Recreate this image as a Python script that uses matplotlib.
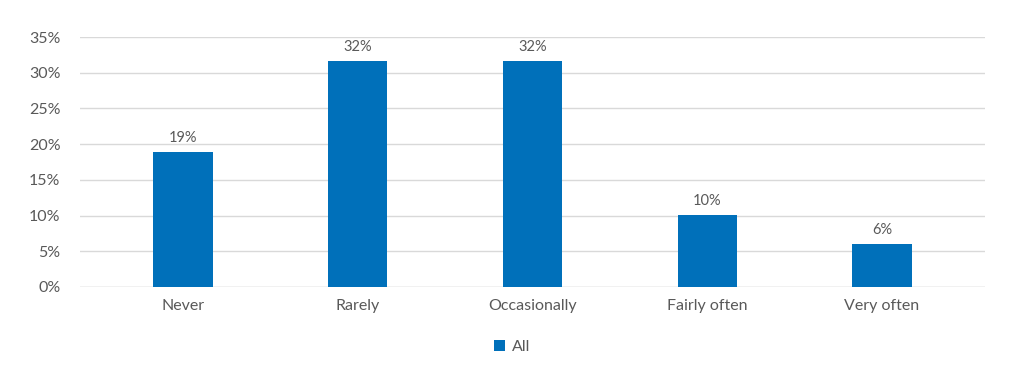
import matplotlib
matplotlib.use('Agg')
import matplotlib.pyplot as plt
from matplotlib.patches import Patch

categories = ['Never', 'Rarely', 'Occasionally', 'Fairly often', 'Very often']
values = [18.9, 31.7, 31.7, 10.1, 6.0]
labels = ['19%', '32%', '32%', '10%', '6%']
yticks = [0, 5, 10, 15, 20, 25, 30, 35]

plt.rcParams['font.family'] = ['Lato', 'DejaVu Sans']
text_color = '#595959'
bar_color = '#0070BA'

fig = plt.figure(figsize=(10.24, 3.83), dpi=100)
ax = fig.add_axes([0.078, 0.2507, 0.884, 0.6526])

x = range(len(categories))
bars = ax.bar(x, values, width=0.34, color=bar_color, zorder=3, label='All')

# value labels above bars
for b, lab in zip(bars, labels):
    ax.annotate(lab, (b.get_x() + b.get_width() / 2, b.get_height()),
                xytext=(0, 5), textcoords='offset points',
                ha='center', va='bottom', fontsize=10.5, color=text_color)

ax.set_ylim(0, 35)
ax.set_xlim(-0.59, 4.59)
ax.set_yticks(yticks)
ax.set_yticklabels([f'{t}%' for t in yticks])
ax.set_xticks(list(x))
ax.set_xticklabels(categories)
ax.tick_params(axis='both', length=0, colors=text_color, labelsize=11.5)
ax.tick_params(axis='y', pad=14)
ax.tick_params(axis='x', pad=9)
ax.grid(axis='y', color='#d9d9d9', linewidth=1, zorder=0)
for s in ax.spines.values():
    s.set_visible(False)
ax.axhline(0, color='#d9d9d9', linewidth=1, zorder=1)

handles = [Patch(facecolor=bar_color, label='All')]
fig.legend(handles=handles, loc='center', bbox_to_anchor=(0.5, 0.095),
           frameon=False, fontsize=11.5, labelcolor=text_color,
           handlelength=0.7, handleheight=0.7, handletextpad=0.4)

plt.savefig('out.png', dpi=100)
plt.close()
